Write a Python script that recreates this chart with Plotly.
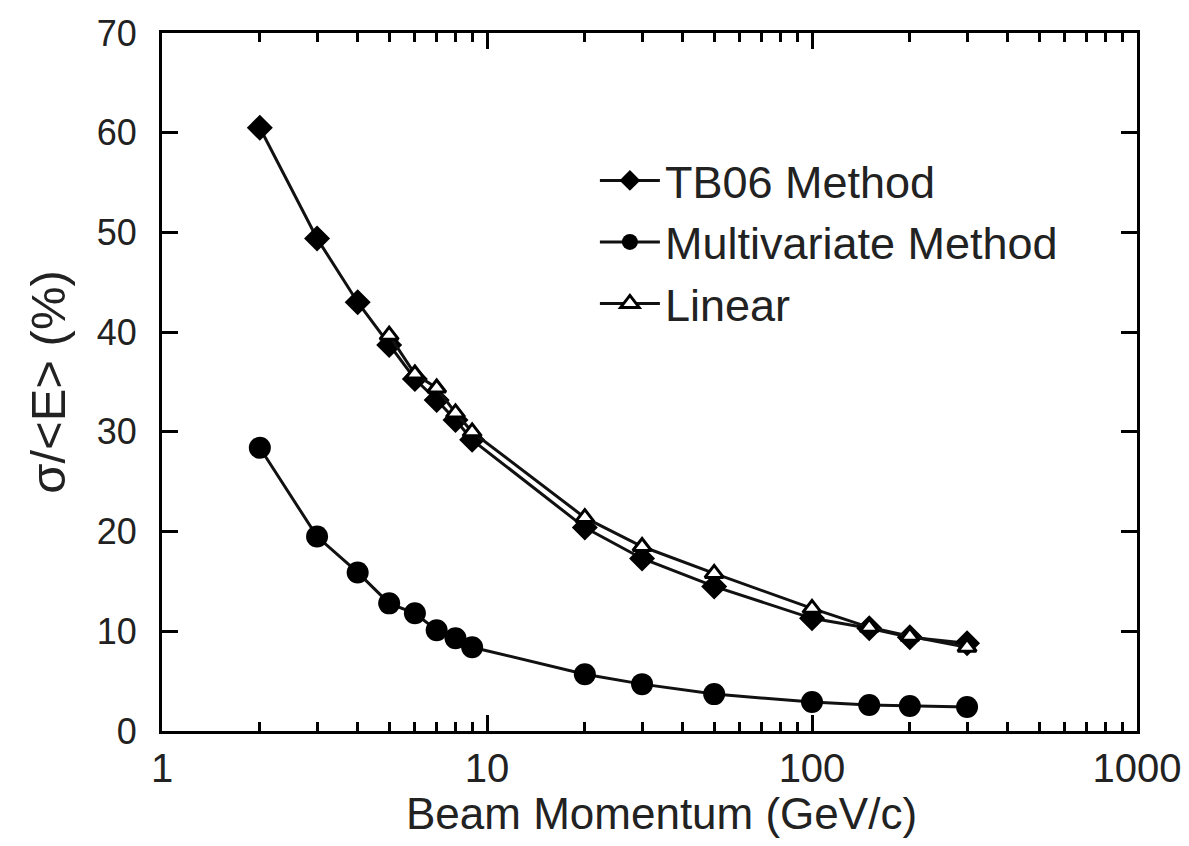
import plotly.graph_objects as go

momentum = [2, 3, 4, 5, 6, 7, 8, 9, 20, 30, 50, 100, 150, 200, 300]
tb06 = [60.5, 49.4, 43.0, 38.7, 35.3, 33.2, 31.2, 29.2, 20.4, 17.3, 14.5, 11.3, 10.3, 9.4, 8.8]
multivariate = [28.4, 19.5, 15.9, 12.8, 11.8, 10.1, 9.3, 8.4, 5.7, 4.7, 3.7, 2.9, 2.6, 2.5, 2.4]
momentum_linear = [5, 6, 7, 8, 9, 20, 30, 50, 100, 150, 200, 300]
linear = [39.7, 35.8, 34.4, 31.9, 30.0, 21.4, 18.5, 15.8, 12.3, 10.4, 9.5, 8.4]

x_tickvals = [1, 10, 100, 1000]
x_ticktext = ["1", "10", "100", "1000"]
y_tickvals = [0, 10, 20, 30, 40, 50, 60, 70]

FONT = "Liberation Sans, Arial, Helvetica, sans-serif"

fig = go.Figure()
fig.add_trace(go.Scatter(
    x=momentum, y=tb06, mode="lines+markers", name="TB06 Method",
    line=dict(color="#111", width=3),
    marker=dict(symbol="diamond", size=20, color="black"),
))
fig.add_trace(go.Scatter(
    x=momentum, y=multivariate, mode="lines+markers", name="Multivariate Method",
    line=dict(color="#111", width=3),
    marker=dict(symbol="circle", size=22, color="black"),
))
fig.add_trace(go.Scatter(
    x=momentum_linear, y=linear, mode="lines+markers", name="Linear",
    line=dict(color="#111", width=3),
    marker=dict(symbol="triangle-up", size=16, color="white",
                line=dict(color="black", width=3)),
))

fig.add_annotation(
    text="Beam Momentum (GeV/c)", xref="paper", yref="paper",
    x=0.512, y=-0.080, xanchor="center", yanchor="top", showarrow=False,
    font=dict(family=FONT, size=44, color="#222"),
)

fig.update_layout(
    width=1189, height=846,
    margin=dict(l=154, r=60, t=25, b=123),
    paper_bgcolor="white", plot_bgcolor="white",
    font=dict(family=FONT, color="#222", size=38),
    showlegend=True,
    legend=dict(x=0.444, y=0.84, xanchor="left", yanchor="top",
                bgcolor="rgba(0,0,0,0)", font=dict(size=45),
                itemwidth=60, tracegroupgap=0),
    xaxis=dict(
        type="log", range=[0, 3], automargin=False,
        tickvals=x_tickvals, ticktext=x_ticktext,
        ticks="inside", ticklen=16, tickwidth=3, tickcolor="black",
        showline=True, linecolor="black", linewidth=3, mirror="ticks",
        showgrid=False, zeroline=False,
        minor=dict(ticks="inside", ticklen=9, tickwidth=3, tickcolor="black",
                   dtick="D1", showgrid=False),
        tickfont=dict(size=40),
        ticklabelstandoff=0,
    ),
    yaxis=dict(
        range=[0, 70], tickvals=y_tickvals, automargin=False,
        ticks="inside", ticklen=16, tickwidth=3, tickcolor="black",
        showline=True, linecolor="black", linewidth=3, mirror="ticks",
        showgrid=False, zeroline=False,
        tickfont=dict(size=36),
        ticklabelstandoff=15,
        title=dict(text="σ/&lt;E&gt; (%)", font=dict(size=49), standoff=16),
    ),
)

fig.write_html("out.html")
